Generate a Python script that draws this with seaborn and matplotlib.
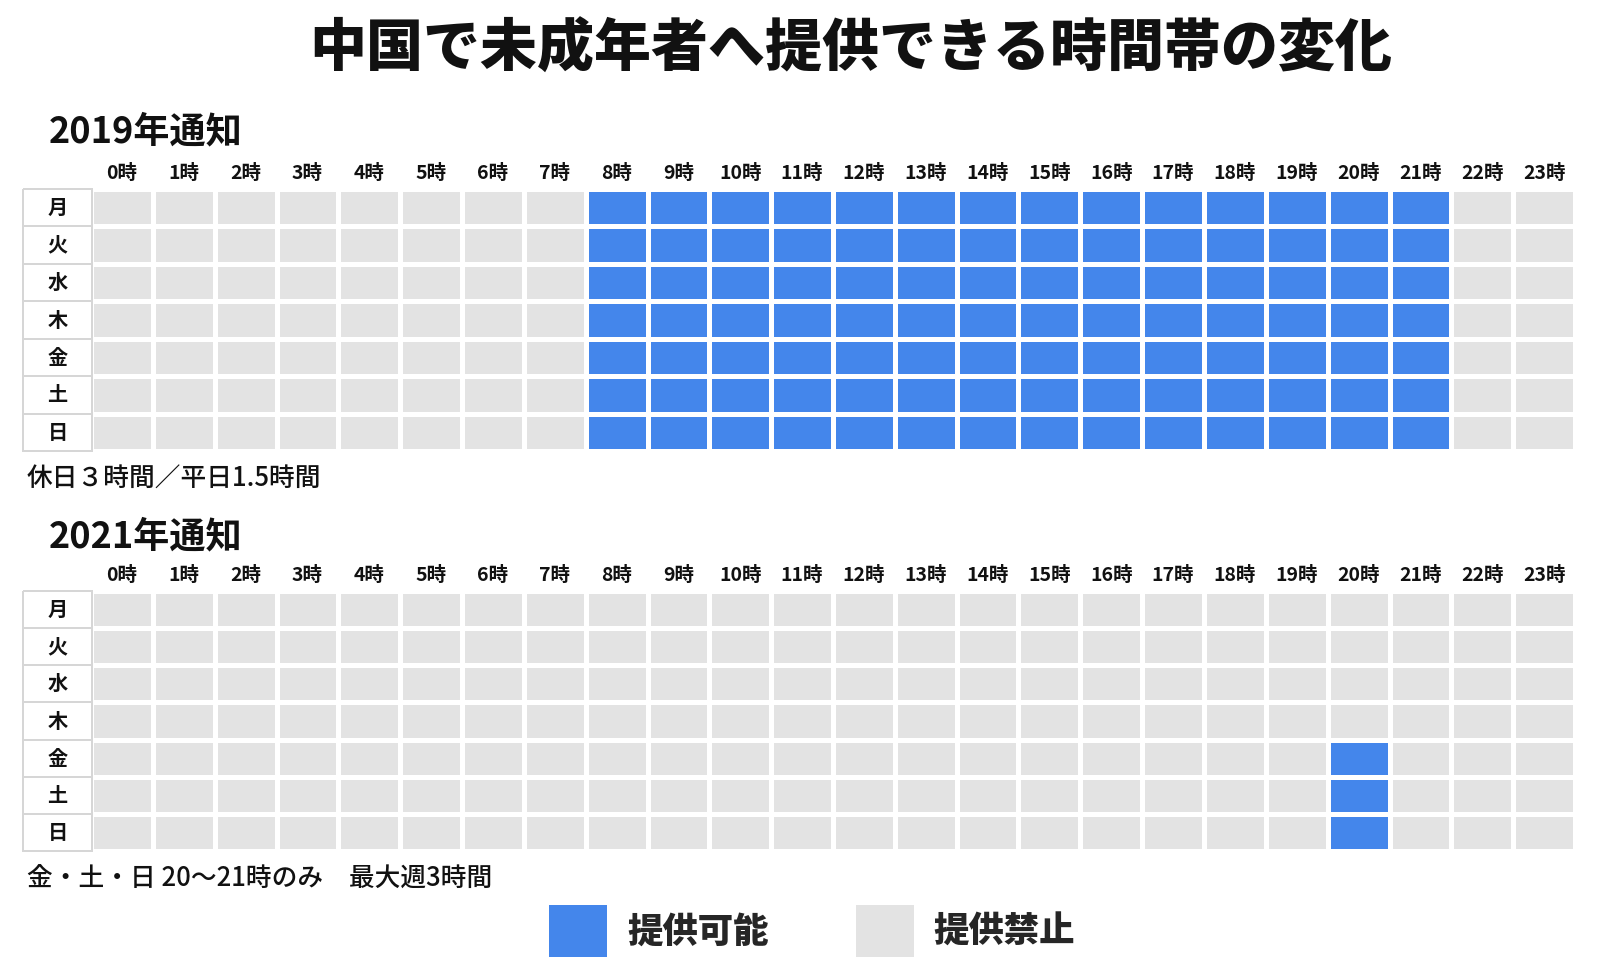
import numpy as np
import pandas as pd
import matplotlib
matplotlib.use("Agg")
import matplotlib.pyplot as plt
from matplotlib.colors import ListedColormap
from matplotlib.patches import Patch
import seaborn as sns

# ---------------- data ----------------
title = "中国で未成年者へ提供できる時間帯の変化"
days = ["月", "火", "水", "木", "金", "土", "日"]
hours = ["0時", "1時", "2時", "3時", "4時", "5時", "6時", "7時", "8時", "9時", "10時", "11時",
         "12時", "13時", "14時", "15時", "16時", "17時", "18時", "19時", "20時", "21時", "22時", "23時"]

# 1 = 提供可能, 0 = 提供禁止 (one string per day, one character per hour)
rows_2019 = [
    "000000001111111111111100",
    "000000001111111111111100",
    "000000001111111111111100",
    "000000001111111111111100",
    "000000001111111111111100",
    "000000001111111111111100",
    "000000001111111111111100",
]
rows_2021 = [
    "000000000000000000000000",
    "000000000000000000000000",
    "000000000000000000000000",
    "000000000000000000000000",
    "000000000000000000001000",
    "000000000000000000001000",
    "000000000000000000001000",
]
section_titles = ["2019年通知", "2021年通知"]
notes = ["休日３時間／平日1.5時間", "金・土・日 20～21時のみ　最大週3時間"]
legend_labels = ["提供可能", "提供禁止"]

# ---------------- style ----------------
sns.set_theme(style="white")
plt.rcParams["font.family"] = ["Noto Sans CJK JP", "DejaVu Sans"]

BLUE = "#4486EB"
GRAY = "#E3E3E3"
cmap = ListedColormap([GRAY, BLUE])

W, H = 1604, 980
fig = plt.figure(figsize=(W / 100, H / 100), dpi=100, facecolor="white")


def px_axes(x0, y0, x1, y1):
    return fig.add_axes([x0 / W, 1 - y1 / H, (x1 - x0) / W, (y1 - y0) / H])


def to_df(rows):
    return pd.DataFrame([[int(c) for c in r] for r in rows], index=days, columns=hours)


grids = [(rows_2019, 189, 451), (rows_2021, 591, 851)]
title_y = [132, 537]
note_y = [479, 879]

for k, (rows, y0, y1) in enumerate(grids):
    df = to_df(rows)
    ax = px_axes(91, y0, 1575, y1)
    sns.heatmap(df, ax=ax, cmap=cmap, vmin=0, vmax=1, cbar=False,
                linewidths=2.2, linecolor="white",
                xticklabels=hours, yticklabels=False)
    ax.xaxis.tick_top()
    ax.tick_params(axis="x", length=0, pad=4.5)
    for lab in ax.get_xticklabels():
        lab.set_fontsize(14)
        lab.set_fontweight("bold")
        lab.set_rotation(0)
        lab.set_color("#111111")
    ax.set_xlabel("")
    ax.set_ylabel("")

    # day label column
    lax = px_axes(23, y0, 92, y1)
    lab_df = pd.DataFrame(np.zeros((7, 1)), index=days, columns=[""])
    sns.heatmap(lab_df, ax=lax, cmap=ListedColormap(["white"]), cbar=False,
                linewidths=1.3, linecolor="#D6D6D6",
                annot=np.array(days).reshape(7, 1), fmt="",
                annot_kws={"fontsize": 14.5, "fontweight": "bold", "color": "#111111"},
                xticklabels=False, yticklabels=False)
    for coll in lax.collections:
        coll.set_clip_on(False)
    lax.set_xlabel("")
    lax.set_ylabel("")

    fig.text(49 / W, 1 - title_y[k] / H, section_titles[k], fontsize=26,
             fontweight="bold", ha="left", va="center", color="#111111")
    fig.text(27 / W, 1 - note_y[k] / H, notes[k], fontsize=18.5,
             fontweight="medium", ha="left", va="center", color="#111111")

fig.text(851 / W, 1 - 50 / H, title, fontsize=41, fontweight="heavy",
         ha="center", va="center", color="#111111")

handles = [Patch(facecolor=BLUE, edgecolor="none"), Patch(facecolor=GRAY, edgecolor="none")]
leg = fig.legend(handles, legend_labels, loc="center", bbox_to_anchor=(812 / W, 1 - 931 / H),
                 ncol=2, frameon=False, handlelength=1.66, handleheight=1.85,
                 handletextpad=0.55, columnspacing=2.46,
                 prop={"family": ["Noto Sans CJK JP", "DejaVu Sans"], "size": 25.5, "weight": "heavy"})

fig.savefig("out.png", dpi=100, facecolor="white")
